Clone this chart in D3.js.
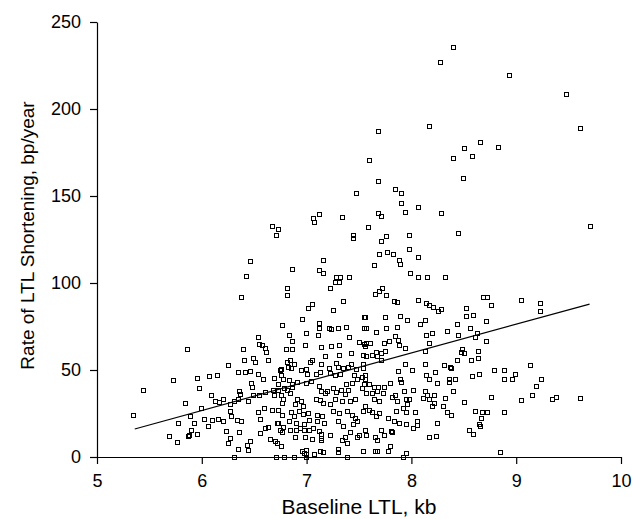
<!DOCTYPE html>
<html>
<head>
<meta charset="utf-8">
<script src="https://cdn.jsdelivr.net/npm/d3@7"></script>
<style>
  body { margin: 0; background: #fff; }
  svg { display: block; }
  .axis text { font-family: "Liberation Sans", Arial, sans-serif; font-size: 18px; fill: #000; }
  .axis path, .axis line { stroke: #000; stroke-width: 1.2px; }
  .title { font-family: "Liberation Sans", Arial, sans-serif; fill: #000; }
</style>
</head>
<body>
<svg id="chart" width="633" height="519"></svg>
<script>
// Baseline LTL (kb) for each subject
var baselineLTL = [
  6.67,6.73,6.71,6.46,6.43,
  8.40,8.28,7.69,8.17,7.60,8.40,7.69,7.48,7.85,7.91,7.91,8.07,7.94,8.29,7.69,7.71,7.12,7.07,7.08,7.34,7.59,7.45,7.45,7.76,7.71,7.98,7.77,7.70,7.83,7.98,8.07,7.89,7.90,7.65,7.16,6.87,7.12,7.16,7.99,7.29,7.32,7.41,8.07,8.15,8.33,
  8.94,9.48,9.61,8.66,8.51,8.83,8.58,8.50,9.71,8.45,
  5.86,5.73,5.44,5.84,5.35,5.78,5.69,5.87,
  6.38,6.54,6.55,6.58,6.61,6.62,6.40,6.49,6.51,6.41,6.64,6.25,6.35,6.42,6.46,6.54,6.59,6.69,6.75,6.47,6.48,5.96,6.07,6.15,5.98,6.09,6.13,6.17,6.21,6.27,6.31,6.36,6.37,6.35,6.45,6.49,6.55,6.61,6.68,6.69,6.73,6.00,5.89,6.27,6.28,6.54,6.60,6.67,6.56,5.93,6.03,6.10,6.06,6.16,6.21,6.34,6.38,6.72,5.90,5.96,5.88,6.24,6.36,6.56,6.61,6.64,6.27,
  5.77,6.25,6.31,6.35,6.44,6.46,6.45,6.66,6.70,6.72,6.76,6.71,6.79,6.88,7.00,7.06,6.96,6.98,7.00,7.00,7.08,7.13,7.16,7.14,7.14,7.14,7.30,7.30,7.34,7.39,7.39,7.54,7.57,7.68,7.66,7.68,7.78,7.80,7.92,7.95,8.85,8.66,
  7.28,7.31,7.23,6.82,6.82,7.06,7.02,7.35,7.26,6.96,6.77,7.12,7.12,7.22,7.24,7.30,7.38,7.55,7.55,7.00,7.11,6.84,6.87,7.41,7.50,7.55,6.81,6.87,6.99,7.14,7.18,7.24,7.31,7.31,7.43,7.54,
  6.82,6.85,6.88,6.83,6.86,6.95,7.00,7.04,7.06,7.14,7.22,7.29,7.30,7.35,7.40,7.43,7.48,7.54,7.54,6.76,6.76,6.78,7.01,7.09,7.13,7.23,7.28,7.32,7.46,7.53,
  6.84,6.87,6.91,7.00,7.05,6.73,6.79,6.82,6.85,6.87,7.12,7.14,7.18,7.20,7.26,7.29,7.33,7.38,7.40,7.37,7.44,7.49,7.53,7.55,
  6.76,6.78,6.77,6.91,6.95,6.89,6.97,7.09,7.13,7.16,7.23,7.28,7.34,7.42,7.47,6.73,6.77,6.86,6.88,6.93,6.97,7.02,7.10,7.15,7.26,7.31,7.39,7.44,7.47,7.54,
  6.73,6.78,6.84,6.90,6.98,7.03,7.10,7.17,7.30,7.35,7.45,7.49,6.75,6.77,6.85,6.90,6.94,6.98,7.03,7.07,7.12,7.23,7.42,7.50,6.89,6.99,7.37,7.49,
  7.66,7.70,7.72,7.76,7.84,7.87,8.07,8.14,8.17,8.21,8.29,8.26,7.56,7.75,7.90,7.96,8.13,8.09,7.87,7.57,7.67,7.76,7.85,8.14,8.20,8.34,7.57,7.61,7.56,7.74,7.79,7.88,7.89,7.94,8.17,7.67,7.71,7.75,8.13,
  7.57,7.63,7.68,7.71,7.94,7.88,8.01,8.13,8.23,8.14,8.32,8.37,7.90,7.91,7.80,7.56,7.56,7.60,7.65,7.69,7.74,8.17,8.25,8.36,7.57,7.63,7.68,7.73,7.85,7.93,8.02,8.13,8.15,8.22,
  7.65,7.70,7.82,7.87,7.95,7.98,7.96,8.12,8.17,8.22,8.20,8.33,8.31,7.56,7.60,7.63,7.70,7.86,7.92,7.95,8.04,8.34,8.38,7.67,7.78,7.84,7.89,7.95,8.06,8.06,8.02,8.25,7.71,7.81,7.74,7.82,7.56,7.66,8.17,8.24,
  8.69,8.73,8.76,9.05,9.23,9.23,8.53,8.53,8.59,8.72,8.44,8.56,8.45,8.63,8.61,8.72,8.49,8.51,8.48,8.64,8.64,8.44,8.57,8.38,8.36,8.42,8.58,8.65,8.79,8.89,8.89,8.96,8.99,9.14,9.24,9.19,8.40,9.16,8.76,9.05,8.51,8.61,8.68,8.73,8.67,8.89,8.65,8.55,8.59,
  9.35,9.38,9.61
];

// Rate of LTL shortening (bp/year), same order as baselineLTL
var shorteningRate = [
  132.4,130.9,127.2,112.1,104.0,
  235.6,226.8,187.2,189.7,170.5,171.4,158.6,151.5,153.8,151.5,145.6,143.3,140.6,140.0,140.2,138.1,139.5,137.2,134.7,137.5,131.8,127.4,125.3,126.8,124.1,127.4,117.8,116.1,116.1,119.1,114.9,113.0,110.7,109.9,112.8,107.9,106.9,105.7,105.2,103.0,103.0,103.0,102.9,102.9,102.9,
  219.1,208.2,188.9,180.6,177.4,177.6,172.6,160.2,132.2,128.3,
  61.7,43.9,38.1,30.5,24.1,19.0,11.7,11.7,
  91.6,68.8,64.8,63.8,62.5,59.8,61.5,56.7,54.2,55.2,55.2,52.7,48.7,48.3,49.4,47.5,44.7,45.2,49.6,42.5,40.2,45.2,46.4,47.1,39.5,35.2,31.8,31.4,32.9,30.3,32.0,37.5,36.0,33.3,31.8,35.2,35.2,36.8,38.3,35.6,38.1,28.0,23.0,26.0,23.2,25.5,27.6,27.0,21.8,19.5,21.3,20.9,17.4,21.8,20.3,21.1,20.3,19.4,15.3,13.0,12.1,14.9,13.8,13.6,16.1,17.1,10.7,
  8.4,8.0,0,4.4,6.4,8.8,3.9,10.0,8.8,7.8,6.0,0,0,0,0,10.0,3.0,2.0,4.0,1.2,1.4,3.4,2.4,12.8,10.8,9.4,4.4,2.4,9.4,7.8,0,3.4,12.1,9.4,3.4,3.4,3.4,6.0,0,1.8,2.4,17.8,
  100.4,100.4,97.0,96.6,92.7,87.8,85.2,89.3,84.3,79.1,75.5,76.6,74.0,74.0,73.2,73.6,74.7,80.1,73.6,70.7,69.9,69.7,66.5,68.8,65.7,64.9,61.5,61.5,63.8,62.8,57.5,63.4,63.8,58.6,59.4,58.6,
  54.4,55.2,53.3,51.3,50.6,50.0,50.4,54.4,55.2,53.3,50.6,53.8,51.3,51.0,51.7,52.9,50.4,50.6,53.3,50.2,47.1,44.8,47.7,47.5,48.7,48.1,46.6,47.5,46.7,45.8,
  43.7,41.4,42.9,42.4,43.3,41.4,39.5,38.5,36.6,39.8,40.8,37.5,36.6,37.5,39.5,37.2,38.5,41.4,38.3,36.0,42.4,44.8,39.5,41.4,
  35.6,32.8,30.9,33.3,31.8,29.9,28.9,33.3,32.2,30.9,30.3,32.8,31.8,31.8,33.3,27.0,24.1,25.5,23.2,26.4,24.5,25.1,24.1,23.2,26.0,25.1,26.4,24.1,22.2,26.0,
  19.4,16.9,20.3,19.1,18.4,20.7,20.3,19.0,20.3,17.4,18.8,20.3,15.0,14.2,15.3,15.3,16.1,15.0,15.3,16.1,14.5,12.6,13.8,12.6,11.0,11.0,11.0,11.0,
  93.5,95.4,96.6,93.1,89.3,88.9,90.2,88.3,87.0,85.8,84.9,83.9,80.3,80.3,81.0,78.7,78.7,75.9,74.5,73.6,71.7,73.6,69.1,70.1,70.9,72.4,65.3,65.3,63.4,65.3,66.3,66.7,64.0,62.5,65.3,60.2,59.6,60.5,60.9,
  57.6,58.6,57.6,55.7,53.3,49.0,50.0,52.9,48.7,47.1,52.5,51.3,44.3,42.9,42.4,47.1,44.3,41.4,39.8,39.8,39.8,44.3,42.4,42.9,36.6,36.6,37.5,36.6,35.6,37.5,38.5,37.5,35.2,35.6,
  32.8,31.8,34.1,31.8,32.8,33.3,29.9,33.7,33.3,30.9,28.9,33.7,28.9,28.9,27.0,25.7,25.1,26.0,28.0,25.7,25.7,25.7,24.1,23.2,22.2,20.3,19.4,18.4,20.3,18.0,16.1,19.4,15.5,14.6,12.6,14.0,15.1,11.1,11.1,11.7,
  91.6,91.6,86.8,89.8,88.3,83.9,85.5,80.6,81.6,77.8,75.9,73.6,70.1,71.1,68.8,66.3,61.5,59.4,60.2,60.5,56.7,55.2,55.2,51.0,44.3,44.3,46.1,47.7,49.6,50.0,44.7,44.7,47.5,52.5,44.3,40.4,37.5,35.1,34.1,32.2,31.4,26.4,25.7,25.5,22.2,25.5,18.4,15.5,13.0,
  32.8,34.1,33.7
];

// least squares line as drawn in the figure (start / end)
var fitLTL = [5.36, 9.70];
var fitRate = [16.1, 87.9];

var xTicks = [5, 6, 7, 8, 9, 10];
var yTicks = [0, 50, 100, 150, 200, 250];
var xTitle = "Baseline LTL, kb";
var yTitle = "Rate of LTL Shortening, bp/year";

function drawChart(){
    var svg = d3.select("#chart");
    var plotLeft = 97, plotRight = 621, plotTop = 22, plotBottom = 457;

    var x = d3.scaleLinear().domain([5, 10]).range([plotLeft, plotRight]);
    var y = d3.scaleLinear().domain([0, 250]).range([plotBottom, plotTop]);

    var points = baselineLTL.map(function(d, i){
        return {ltl: d, rate: shorteningRate[i]};
    });

    svg.append("g")
        .attr("class", "axis")
        .attr("transform", "translate(0," + plotBottom + ")")
        .call(d3.axisBottom(x).tickValues(xTicks).tickFormat(d3.format("d")).tickSize(7).tickSizeOuter(0).tickPadding(10));

    svg.append("g")
        .attr("class", "axis")
        .attr("transform", "translate(" + plotLeft + ",0)")
        .call(d3.axisLeft(y).tickValues(yTicks).tickFormat(d3.format("d")).tickSize(7).tickSizeOuter(0).tickPadding(9));

    // open square markers
    var markerSize = 5;
    svg.append("g").selectAll("rect")
        .data(points)
        .enter()
        .append("rect")
        .attr("x", function(d){ return Math.round(x(d.ltl) - markerSize / 2) + 0.5; })
        .attr("y", function(d){ return Math.round(y(d.rate) - markerSize / 2) + 0.5; })
        .attr("width", markerSize - 1)
        .attr("height", markerSize - 1)
        .attr("fill", "none")
        .attr("stroke", "#000")
        .attr("stroke-width", 1);

    svg.append("line")
        .attr("x1", x(fitLTL[0]))
        .attr("y1", y(fitRate[0]))
        .attr("x2", x(fitLTL[1]))
        .attr("y2", y(fitRate[1]))
        .attr("stroke", "#000")
        .attr("stroke-width", 1.2);

    svg.append("text")
        .attr("class", "title")
        .attr("x", (plotLeft + plotRight) / 2)
        .attr("y", 514)
        .attr("text-anchor", "middle")
        .style("font-size", "21px")
        .text(xTitle);

    svg.append("text")
        .attr("class", "title")
        .attr("transform", "translate(34," + ((plotTop + plotBottom) / 2 - 4) + ") rotate(-90)")
        .attr("text-anchor", "middle")
        .style("font-size", "19px")
        .text(yTitle);
}

drawChart();
</script>
</body>
</html>
